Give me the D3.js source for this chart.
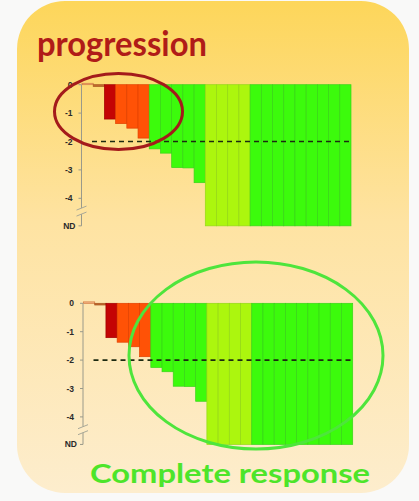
<!DOCTYPE html>
<html>
<head>
<meta charset="utf-8">
<script src="https://cdn.jsdelivr.net/npm/d3@7"></script>
<style>
  html, body { margin: 0; padding: 0; background: #f9f9f8; }
  svg { display: block; }
</style>
</head>
<body>
<svg id="chart" width="419" height="501"></svg>
<script>
// Per-patient change (log units); null = not detectable (ND)
const patients = d3.range(1, 25).map(i => "P" + i);
const changes = [0.05, -0.06, -1.21, -1.37, -1.53, -1.88, -2.26, -2.41, -2.92, -2.93, -3.45,
                 null, null, null, null, null, null, null, null, null, null, null, null, null];
const responseGroup = ["stable", "minor", "partial", "weak", "weak", "weak",
                       "good", "good", "good", "good", "good",
                       "nd", "nd", "nd", "nd",
                       "good", "good", "good", "good", "good", "good", "good", "good", "good"];
const tickValues = [0, -1, -2, -3, -4];
const tickLabels = ["0", "-1", "-2", "-3", "-4"];
const ndLevel = -4.97;
const ndLabel = "ND";
const threshold = -2;
const titleTop = "progression";
const titleBottom = "Complete response";

const fills = {
  stable: "#f6b98a", minor: "#c2692e", partial: "#c40404", weak: "#ff5206",
  good: "#3cfb0c", nd: "#acf60e"
};
const strokes = {
  stable: "#d2783e", minor: "#a8541e", partial: "#a00000", weak: "#e04000",
  good: "#38d41a", nd: "#94d818"
};

const svg = d3.select("#chart");
const defs = svg.append("defs");

// Rounded panel with warm vertical gradient
const grad = defs.append("linearGradient").attr("id", "panelGrad")
  .attr("x1", 0).attr("y1", 0).attr("x2", 0).attr("y2", 1);
grad.append("stop").attr("offset", "0%").attr("stop-color", "#fdd65a");
grad.append("stop").attr("offset", "45%").attr("stop-color", "#fee3a2");
grad.append("stop").attr("offset", "100%").attr("stop-color", "#fdedcd");

svg.append("rect").attr("x", 17).attr("y", 1).attr("width", 392).attr("height", 492)
  .attr("rx", 48).attr("ry", 48).attr("fill", "url(#panelGrad)");

function drawPanel(g, x0, x1, yZero) {
  const x = d3.scaleBand().domain(patients).range([x0, x1]).padding(0);
  const unit = 28.4;
  const y = d3.scaleLinear().domain([0, -4]).range([yZero, yZero + 4 * unit]);
  const val = v => (v === null ? ndLevel : v);

  // bars
  g.selectAll("rect.bar").data(patients).join("rect")
    .attr("class", "bar")
    .attr("x", d => x(d))
    .attr("width", x.bandwidth())
    .attr("y", (d, i) => Math.min(y(0), y(val(changes[i]))))
    .attr("height", (d, i) => Math.max(1, Math.abs(y(val(changes[i])) - y(0))))
    .attr("fill", (d, i) => fills[responseGroup[i]])
    .attr("stroke", (d, i) => strokes[responseGroup[i]])
    .attr("stroke-width", 0.7);

  // y axis with a break before ND
  const axisX = x0 - 0.5;
  const breakY = y(-4.45);
  g.append("line").attr("x1", axisX).attr("x2", axisX)
    .attr("y1", y(0)).attr("y2", breakY - 3)
    .attr("stroke", "#9a9a8a").attr("stroke-width", 1);
  g.append("line").attr("x1", axisX).attr("x2", axisX)
    .attr("y1", breakY + 3).attr("y2", y(ndLevel))
    .attr("stroke", "#9a9a8a").attr("stroke-width", 1);
  [-3, 3].forEach(o => g.append("line")
    .attr("x1", axisX - 5).attr("x2", axisX + 5)
    .attr("y1", breakY + o + 2).attr("y2", breakY + o - 2)
    .attr("stroke", "#a8a898").attr("stroke-width", 1));

  const ticks = tickValues.map((v, i) => ({ v: v, label: tickLabels[i] }))
    .concat([{ v: ndLevel, label: ndLabel }]);
  g.selectAll("line.tick").data(ticks).join("line")
    .attr("class", "tick")
    .attr("x1", axisX - 3).attr("x2", axisX)
    .attr("y1", d => y(d.v)).attr("y2", d => y(d.v))
    .attr("stroke", "#9a9a8a");
  g.selectAll("text.tl").data(ticks).join("text")
    .attr("class", "tl")
    .attr("x", d => d.label === ndLabel ? axisX - 6 : axisX - 9)
    .attr("y", d => y(d.v) + 3)
    .attr("text-anchor", "end")
    .attr("font-family", "Liberation Sans, Arial, sans-serif")
    .attr("font-weight", "bold")
    .attr("font-size", 8.5)
    .attr("fill", "#2a2a2a")
    .text(d => d.label);

  // response threshold
  g.append("line")
    .attr("x1", x0 + 10).attr("x2", x1)
    .attr("y1", y(threshold)).attr("y2", y(threshold))
    .attr("stroke", "#1c2a10").attr("stroke-width", 1.6)
    .attr("stroke-dasharray", "5,4");

  return { x, y };
}

const upperPanel = svg.append("g");
drawPanel(upperPanel, 82, 351, 84.7);
const lowerPanel = svg.append("g");
drawPanel(lowerPanel, 83.5, 352.7, 303.3);

// highlight ellipses
svg.append("ellipse").attr("cx", 118.5).attr("cy", 111.5).attr("rx", 64).attr("ry", 38)
  .attr("fill", "none").attr("stroke", "#a41b1b").attr("stroke-width", 3);
svg.append("ellipse").attr("cx", 256).attr("cy", 355.5).attr("rx", 127).attr("ry", 93.5)
  .attr("fill", "none").attr("stroke", "#4ee53c").attr("stroke-width", 3);

// captions
svg.append("text").attr("x", 37).attr("y", 56)
  .attr("font-family", "Lato, 'Open Sans', sans-serif").attr("font-weight", "bold")
  .attr("font-size", 35).attr("fill", "#b01c18")
  .attr("textLength", 170).attr("lengthAdjust", "spacingAndGlyphs")
  .text(titleTop);
svg.append("text").attr("x", 90).attr("y", 483)
  .attr("font-family", "Lato, 'Open Sans', sans-serif").attr("font-weight", "bold")
  .attr("font-size", 27).attr("fill", "#4de52a")
  .attr("textLength", 280).attr("lengthAdjust", "spacingAndGlyphs")
  .text(titleBottom);
</script>
</body>
</html>
